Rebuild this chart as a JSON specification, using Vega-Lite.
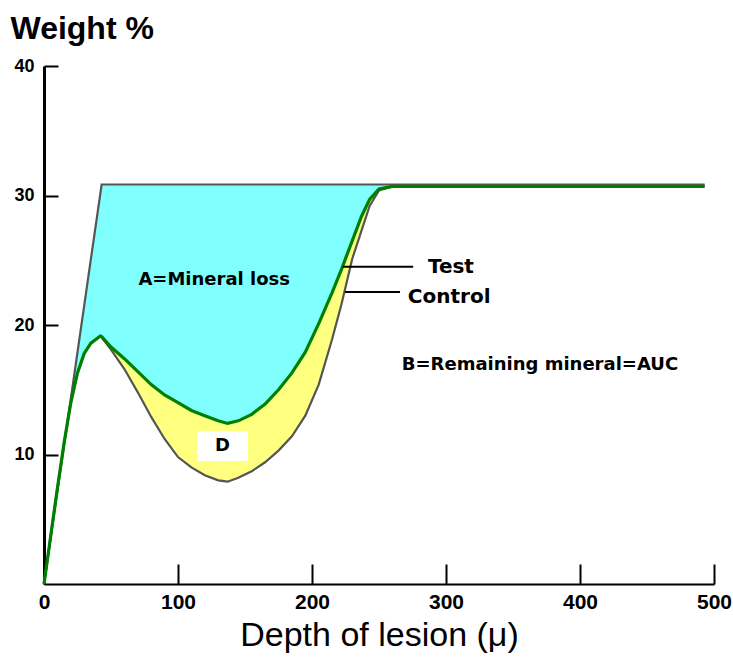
{
  "$schema": "https://vega.github.io/schema/vega-lite/v6.json",
  "width": 670,
  "height": 518,
  "autosize": {"type": "none"},
  "padding": {"left": 44, "top": 66, "right": 19, "bottom": 80},
  "background": "white",
  "config": {
    "view": {"stroke": null},
    "axis": {"grid": false, "domainColor": "black", "tickColor": "black", "labelColor": "black", "titleColor": "black"}
  },
  "datasets": {
    "profile": [
      {"x": 0, "sound": 0, "test": 0, "control": 0},
      {"x": 5, "sound": 3.6, "test": 3.7, "control": 3.7},
      {"x": 10, "sound": 7.2, "test": 7.4, "control": 7.4},
      {"x": 15, "sound": 10.7, "test": 10.9, "control": 10.9},
      {"x": 20, "sound": 14.3, "test": 14.0, "control": 14.0},
      {"x": 25, "sound": 17.9, "test": 16.3, "control": 16.3},
      {"x": 30, "sound": 21.5, "test": 17.8, "control": 17.8},
      {"x": 35, "sound": 25.1, "test": 18.6, "control": 18.6},
      {"x": 42, "sound": 30.1, "test": 19.15, "control": 19.15},
      {"x": 43, "sound": 30.85, "test": 19.1, "control": 19.05},
      {"x": 50, "sound": 30.85, "test": 18.3, "control": 18.1},
      {"x": 60, "sound": 30.85, "test": 17.4, "control": 16.6},
      {"x": 70, "sound": 30.85, "test": 16.4, "control": 14.8},
      {"x": 80, "sound": 30.85, "test": 15.4, "control": 12.9},
      {"x": 90, "sound": 30.85, "test": 14.6, "control": 11.2},
      {"x": 100, "sound": 30.85, "test": 14.0, "control": 9.8},
      {"x": 110, "sound": 30.85, "test": 13.4, "control": 9.0},
      {"x": 120, "sound": 30.85, "test": 13.0, "control": 8.4},
      {"x": 130, "sound": 30.85, "test": 12.6, "control": 8.0},
      {"x": 137, "sound": 30.85, "test": 12.4, "control": 7.9},
      {"x": 145, "sound": 30.85, "test": 12.6, "control": 8.2},
      {"x": 155, "sound": 30.85, "test": 13.1, "control": 8.7},
      {"x": 165, "sound": 30.85, "test": 13.9, "control": 9.4},
      {"x": 175, "sound": 30.85, "test": 15.0, "control": 10.3},
      {"x": 185, "sound": 30.85, "test": 16.3, "control": 11.4},
      {"x": 195, "sound": 30.85, "test": 17.9, "control": 13.0},
      {"x": 205, "sound": 30.85, "test": 20.1, "control": 15.4},
      {"x": 215, "sound": 30.85, "test": 22.5, "control": 18.9},
      {"x": 222, "sound": 30.85, "test": 24.3, "control": 21.6},
      {"x": 230, "sound": 30.85, "test": 26.5, "control": 25.1},
      {"x": 237, "sound": 30.85, "test": 28.4, "control": 27.3},
      {"x": 243, "sound": 30.85, "test": 29.7, "control": 29.2},
      {"x": 250, "sound": 30.85, "test": 30.5, "control": 30.4},
      {"x": 260, "sound": 30.85, "test": 30.7, "control": 30.7},
      {"x": 300, "sound": 30.85, "test": 30.7, "control": 30.7},
      {"x": 400, "sound": 30.85, "test": 30.7, "control": 30.7},
      {"x": 493, "sound": 30.85, "test": 30.7, "control": 30.7}
    ],
    "labels": [
      {"label": "A=Mineral loss", "x": 127, "y": 23.5, "size": "m"},
      {"label": "Test", "x": 286.5, "y": 24.5, "size": "l"},
      {"label": "Control", "x": 271.5, "y": 22.2, "size": "l"},
      {"label": "B=Remaining mineral=AUC", "x": 267, "y": 16.9, "size": "s"}
    ],
    "leaders": [
      {"x": 223, "x2": 275.5, "y": 24.5},
      {"x": 224.6, "x2": 265.7, "y": 22.55}
    ],
    "dbox": [
      {"x": 114.2, "x2": 152.2, "y": 9.5, "y2": 11.8, "label": "D", "xc": 133.2, "yc": 10.65}
    ]
  },
  "encoding": {
    "x": {"field": "x", "type": "quantitative", "scale": {"domain": [0, 500], "nice": false},
      "axis": {"values": [0, 100, 200, 300, 400, 500], "title": "Depth of lesion (\u03bc)", "tickSize": -20, "tickWidth": 2, "domainWidth": 2, "labelPadding": 27, "labelFlush": false,
        "labelFont": "Liberation Sans Narrow, Arial Narrow, Liberation Sans", "labelFontWeight": "bold", "labelFontSize": 21,
        "titleFont": "Liberation Sans, Arial", "titleFontWeight": "normal", "titleFontSize": 34, "titlePadding": 6}}
  },
  "layer": [
    {
      "data": {"name": "profile"},
      "mark": {"type": "area", "color": "#80FFFF", "opacity": 1},
      "encoding": {
        "y": {"field": "sound", "type": "quantitative", "scale": {"domain": [0, 40], "nice": false},
          "axis": {"values": [10, 20, 30, 40], "title": "Weight %", "tickSize": -14, "tickWidth": 2, "domainWidth": 3, "labelPadding": 24,
            "labelFont": "Liberation Sans Narrow, Arial Narrow, Liberation Sans", "labelFontWeight": "bold", "labelFontSize": 18,
            "titleFont": "Liberation Sans, Arial", "titleFontWeight": "bold", "titleFontSize": 32, "titleAngle": 0,
            "titleAlign": "left", "titleBaseline": "alphabetic", "titleX": -34, "titleY": -28}},
        "y2": {"field": "test"}
      }
    },
    {
      "data": {"name": "profile"},
      "mark": {"type": "area", "color": "#FFFF80", "opacity": 1},
      "encoding": {
        "y": {"field": "test", "type": "quantitative", "scale": {"domain": [0, 40], "nice": false}},
        "y2": {"field": "control"}
      }
    },
    {
      "data": {"name": "profile"},
      "mark": {"type": "line", "color": "#555555", "strokeWidth": 2.2},
      "encoding": {
        "y": {"field": "sound", "type": "quantitative", "scale": {"domain": [0, 40], "nice": false}}
      }
    },
    {
      "data": {"name": "profile"},
      "mark": {"type": "line", "color": "#555555", "strokeWidth": 2.2},
      "encoding": {
        "y": {"field": "control", "type": "quantitative", "scale": {"domain": [0, 40], "nice": false}}
      }
    },
    {
      "data": {"name": "profile"},
      "mark": {"type": "line", "color": "#008000", "strokeWidth": 3.2},
      "encoding": {
        "y": {"field": "test", "type": "quantitative", "scale": {"domain": [0, 40], "nice": false}}
      }
    },
    {
      "data": {"name": "dbox"},
      "mark": {"type": "rect", "color": "white", "cornerRadius": 2},
      "encoding": {
        "x2": {"field": "x2"},
        "y": {"field": "y", "type": "quantitative", "scale": {"domain": [0, 40], "nice": false}},
        "y2": {"field": "y2"}
      }
    },
    {
      "data": {"name": "dbox"},
      "mark": {"type": "text", "font": "DejaVu Sans", "fontWeight": "bold", "fontSize": 18, "align": "center", "baseline": "middle", "color": "black"},
      "encoding": {
        "x": {"field": "xc", "type": "quantitative", "scale": {"domain": [0, 500], "nice": false}},
        "y": {"field": "yc", "type": "quantitative", "scale": {"domain": [0, 40], "nice": false}},
        "text": {"field": "label"}
      }
    },
    {
      "data": {"name": "leaders"},
      "mark": {"type": "rule", "color": "black", "strokeWidth": 2},
      "encoding": {
        "x2": {"field": "x2"},
        "y": {"field": "y", "type": "quantitative", "scale": {"domain": [0, 40], "nice": false}}
      }
    },
    {
      "data": {"name": "labels"},
      "transform": [{"filter": "datum.size == 'm'"}],
      "mark": {"type": "text", "font": "DejaVu Sans", "fontWeight": "bold", "fontSize": 18, "align": "center", "baseline": "middle", "color": "black"},
      "encoding": {
        "y": {"field": "y", "type": "quantitative", "scale": {"domain": [0, 40], "nice": false}},
        "text": {"field": "label"}
      }
    },
    {
      "data": {"name": "labels"},
      "transform": [{"filter": "datum.size == 'l'"}],
      "mark": {"type": "text", "font": "DejaVu Sans", "fontWeight": "bold", "fontSize": 20, "align": "left", "baseline": "middle", "color": "black"},
      "encoding": {
        "y": {"field": "y", "type": "quantitative", "scale": {"domain": [0, 40], "nice": false}},
        "text": {"field": "label"}
      }
    },
    {
      "data": {"name": "labels"},
      "transform": [{"filter": "datum.size == 's'"}],
      "mark": {"type": "text", "font": "DejaVu Sans", "fontWeight": "bold", "fontSize": 18, "align": "left", "baseline": "middle", "color": "black"},
      "encoding": {
        "y": {"field": "y", "type": "quantitative", "scale": {"domain": [0, 40], "nice": false}},
        "text": {"field": "label"}
      }
    }
  ]
}
